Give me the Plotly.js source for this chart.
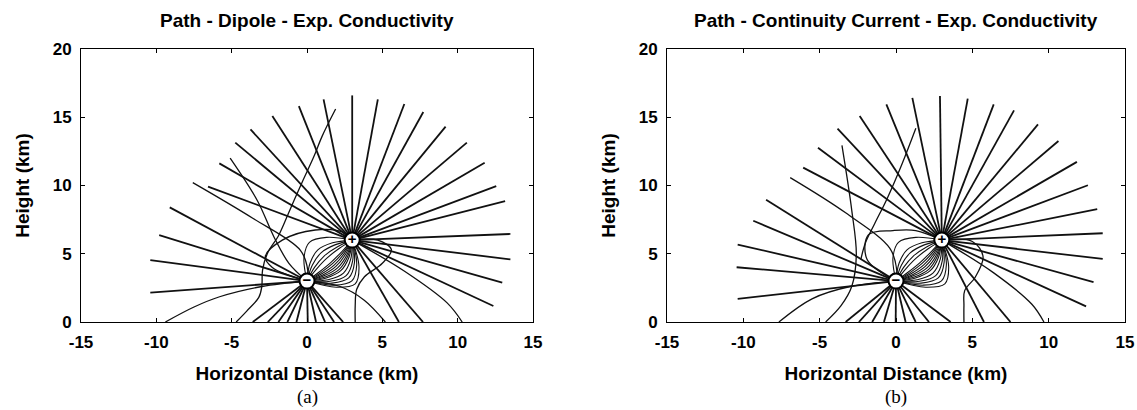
<!DOCTYPE html>
<html><head><meta charset="utf-8">
<script src="https://cdn.plot.ly/plotly-3.0.1.min.js"></script>
<style>html,body{margin:0;padding:0;background:#fff}#chart{width:1137px;height:410px}</style>
</head><body><div id="chart"></div>
<script>
// ---------- data ----------
const xTicks = [-15, -10, -5, 0, 5, 10, 15];
const yTicks = [0, 5, 10, 15, 20];
const chargeX = [3, 0];
const chargeY = [6, 3];
const chargeSign = ['+', '\u2212'];
const panelTitles = ['Path - Dipole - Exp. Conductivity', 'Path - Continuity Current - Exp. Conductivity'];
const panelLetters = ['(a)', '(b)'];

// (a) straight paths leaving the positive charge: end points
const plusEndAX = [3.0, 4.7, 6.46, 7.72, 9.2, 10.61, 11.79, 12.56, 13.15, 13.5, 13.5, 12.96, 12.37, 6.1, 7.7, 1.1, -0.54, -2.3, -3.75, -4.76, -5.82, -6.57];
const plusEndAY = [16.6, 16.31, 15.97, 15.38, 14.31, 13.14, 11.67, 9.96, 8.86, 6.45, 4.59, 2.88, 1.17, 0, 0, 16.31, 15.82, 15.09, 14.11, 13.14, 11.62, 9.92];
// (a) straight paths reaching the negative charge: start points
const minusEndAX = [-10.4, -10.4, -9.81, -9.11, -3.6, -2.6, -1.9, -1.3, -0.7, 0.05, 0.6, 1.2, 1.8, 2.4];
const minusEndAY = [2.15, 4.54, 6.37, 8.4, 0, 0, 0, 0, 0, 0, 0, 0, 0, 0];
// (a) curved paths
const curveA1X = [-7.58, -3.6, -0.45, 0.05, 0];      const curveA1Y = [10.21, 7.6, 5.27, 3.8, 3];
const curveA2X = [-9.4, -7.5, -5.8, -3.0, 0];        const curveA2Y = [0, 1.1, 1.85, 2.6, 3];
const curveA3X = [-5.1, -3.3, -2.2, -1.2, 0];        const curveA3Y = [12.0, 8.9, 6.25, 4.3, 3];
const curveA4X = [1.9, 1.0, 0.45, -0.3, -1.1, -1.9, -2.6, -2.95, -3.0, -3.2, -4.0, -4.7];
const curveA4Y = [15.6, 13.6, 12.1, 10.3, 8.3, 6.3, 5.1, 3.8, 2.6, 1.8, 0.8, 0];
const curveA5X = [3, 4.7, 5.6, 5.0, 3.8, 3.3, 3.2, 3.2]; const curveA5Y = [6, 6.0, 5.3, 4.3, 3.3, 2.4, 1.2, 0];
const curveA6X = [3, 6.5, 9.3, 10.3];                 const curveA6Y = [6, 3.7, 1.4, 0];
const curveA7X = [0, 2.2, 3.8, 5.2];                  const curveA7Y = [3, 2.6, 1.6, 0];
const curveA8X = [0, -2.3, -2.77, -1.64, 0.55, 2.34, 3]; const curveA8Y = [3, 4.0, 4.78, 6.0, 6.74, 6.6, 6];

// (b) straight paths leaving the positive charge: end points
const plusEndBX = [2.88, 4.7, 6.4, 7.73, 9.3, 10.64, 11.85, 12.57, 13.18, 13.54, 13.54, 12.94, 12.45, 5.76, 7.5, 1.07, -0.63, -2.38, -3.83, -5.11, -6.08];
const plusEndBY = [16.55, 16.37, 15.94, 15.5, 14.48, 13.26, 11.73, 10.02, 8.27, 6.5, 4.62, 2.92, 1.14, 0, 0, 16.42, 15.94, 15.09, 14.16, 12.77, 11.31];
// (b) straight paths reaching the negative charge: start points
const minusEndBX = [-8.51, -9.35, -10.37, -10.44, -10.37, -3.3, -2.43, -1.56, -0.79, -0.02, 0.63, 1.29, 2.16, 3.58];
const minusEndBY = [8.95, 7.42, 5.67, 4.01, 1.7, 0, 0, 0, 0, 0, 0, 0, 0, 0];
// (b) curved paths
const curveB1X = [-6.93, -3.3, -0.4, 0.05, 0];       const curveB1Y = [10.58, 8.0, 5.4, 3.8, 3];
const curveB2X = [-7.67, -5.5, -3.0, 0];             const curveB2Y = [0, 1.7, 2.6, 3];
const curveB3X = [-3.54, -2.9, -2.6, -2.9, -3.6, -4.61]; const curveB3Y = [12.94, 8.2, 4.9, 2.6, 1.2, 0];
const curveB4X = [1.3, 0.4, -0.6, -1.4, -2.0, -2.3]; const curveB4Y = [14.2, 11.6, 9.0, 7.2, 5.8, 4.6];
const curveB5X = [3, 5.0, 5.7, 5.2, 4.5, 4.45, 4.45]; const curveB5Y = [6, 5.9, 4.8, 3.3, 2.3, 1.2, 0];
const curveB6X = [3, 6.4, 8.9, 9.69];                const curveB6Y = [6, 3.6, 1.3, 0];
const curveB7X = [0, -1.9, -1.8, -0.2, 1.3, 3];      const curveB7Y = [3, 4.6, 6.4, 6.7, 6.7, 6];

// loops joining the two charges (shared by both panels)
const loop1X = [0, 0.9, 1.71, 2.4, 3];     const loop1Y = [3, 3.6, 4.29, 5.1, 6];
const loop2X = [0, 1.05, 1.92, 2.55, 3];   const loop2Y = [3, 3.45, 4.08, 4.95, 6];
const loop3X = [0, 1.2, 2.14, 2.7, 3];     const loop3Y = [3, 3.3, 3.86, 4.8, 6];
const loop4X = [0, 1.4, 2.42, 2.9, 3];     const loop4Y = [3, 3.1, 3.58, 4.6, 6];
const loop5X = [0, 1.65, 2.77, 3.15, 3];   const loop5Y = [3, 2.85, 3.23, 4.35, 6];
const loop6X = [0, 1.95, 3.2, 3.45, 3];    const loop6Y = [3, 2.55, 2.8, 4.05, 6];
const loop7X = [0, 0.5, 1.15, 2.0, 3];     const loop7Y = [3, 4.0, 4.85, 5.5, 6];
const loop8X = [0, 0.2, 0.72, 1.7, 3];     const loop8Y = [3, 4.3, 5.28, 5.8, 6];
const loop9X = [0, -0.2, 0.16, 1.3, 3];    const loop9Y = [3, 4.7, 5.84, 6.2, 6];
const loop10X = [0, 0.83, 1.61, 2.33, 3];  const loop10Y = [3, 3.68, 4.39, 5.18, 6];
const loop11X = [0, 0.98, 1.82, 2.48, 3];  const loop11Y = [3, 3.53, 4.18, 5.03, 6];
const loop12X = [0, 1.13, 2.03, 2.63, 3];  const loop12Y = [3, 3.38, 3.97, 4.88, 6];
const loop13X = [0, 1.28, 2.24, 2.78, 3];  const loop13Y = [3, 3.23, 3.76, 4.73, 6];
const loop14X = [0, 1.53, 2.6, 3.03, 3];   const loop14Y = [3, 2.98, 3.4, 4.48, 6];
const loop15X = [0, 1.8, 2.98, 3.3, 3];    const loop15Y = [3, 2.7, 3.02, 4.2, 6];
const loop16X = [0, 0.63, 1.32, 2.13, 3];  const loop16Y = [3, 3.88, 4.68, 5.38, 6];
const loop17X = [0, 0.35, 0.93, 1.85, 3];  const loop17Y = [3, 4.15, 5.07, 5.65, 6];

// ---------- build ----------
const loopsX = [loop1X, loop2X, loop3X, loop4X, loop5X, loop6X, loop7X, loop8X, loop9X,
                loop10X, loop11X, loop12X, loop13X, loop14X, loop15X, loop16X, loop17X];
const loopsY = [loop1Y, loop2Y, loop3Y, loop4Y, loop5Y, loop6Y, loop7Y, loop8Y, loop9Y,
                loop10Y, loop11Y, loop12Y, loop13Y, loop14Y, loop15Y, loop16Y, loop17Y];
const panels = [
  {xa: 'x', ya: 'y', pX: plusEndAX, pY: plusEndAY, mX: minusEndAX, mY: minusEndAY,
   cX: [curveA1X, curveA2X, curveA3X, curveA4X, curveA5X, curveA6X, curveA7X, curveA8X],
   cY: [curveA1Y, curveA2Y, curveA3Y, curveA4Y, curveA5Y, curveA6Y, curveA7Y, curveA8Y]},
  {xa: 'x2', ya: 'y2', pX: plusEndBX, pY: plusEndBY, mX: minusEndBX, mY: minusEndBY,
   cX: [curveB1X, curveB2X, curveB3X, curveB4X, curveB5X, curveB6X, curveB7X],
   cY: [curveB1Y, curveB2Y, curveB3Y, curveB4Y, curveB5Y, curveB6Y, curveB7Y]}
];
const ink = '#111';
const traces = [];
function starTrace(p, cx, cy, ex, ey) {
  const xs = [], ys = [];
  for (let i = 0; i < ex.length; i++) { xs.push(cx, ex[i], null); ys.push(cy, ey[i], null); }
  return {x: xs, y: ys, xaxis: p.xa, yaxis: p.ya, mode: 'lines', line: {color: ink, width: 1.8},
          hoverinfo: 'skip', showlegend: false};
}
panels.forEach(p => {
  traces.push(starTrace(p, chargeX[0], chargeY[0], p.pX, p.pY));
  traces.push(starTrace(p, chargeX[1], chargeY[1], p.mX, p.mY));
  p.cX.forEach((cx, i) => traces.push({x: cx, y: p.cY[i], xaxis: p.xa, yaxis: p.ya, mode: 'lines',
    line: {color: ink, width: 1.3, shape: 'spline'}, hoverinfo: 'skip', showlegend: false}));
  loopsX.forEach((lx, i) => traces.push({x: lx, y: loopsY[i], xaxis: p.xa, yaxis: p.ya, mode: 'lines',
    line: {color: ink, width: 1.1, shape: 'spline'}, hoverinfo: 'skip', showlegend: false}));
  traces.push({x: chargeX, y: chargeY, xaxis: p.xa, yaxis: p.ya, mode: 'markers+text',
    text: chargeSign, textposition: 'middle center',
    textfont: {family: 'Liberation Sans, Arial, sans-serif', size: 15, color: '#000', weight: 700},
    marker: {size: 15, color: '#fff', line: {color: '#000', width: 2}},
    hoverinfo: 'skip', showlegend: false});
});

const sans = 'Liberation Sans, Arial, sans-serif';
const tickFont = {family: sans, size: 17, color: '#000', weight: 700};
const axTitleFont = {family: sans, size: 19, color: '#000', weight: 700};
function xAxis(domain) {
  return {domain: domain, range: [-15, 15], tickvals: xTicks, ticktext: xTicks.map(String),
    ticks: 'inside', ticklen: 4, tickcolor: '#000', mirror: 'ticks', showline: true, linecolor: '#000', linewidth: 1,
    showgrid: false, zeroline: false, tickfont: tickFont, ticklabelstandoff: 5,
    title: {text: 'Horizontal Distance (km)', font: axTitleFont, standoff: 15}};
}
function yAxis(domain, anchor) {
  return {domain: domain, anchor: anchor, range: [0, 20], tickvals: yTicks, ticktext: yTicks.map(String),
    ticks: 'inside', ticklen: 4, tickcolor: '#000', mirror: 'ticks', showline: true, linecolor: '#000', linewidth: 1,
    showgrid: false, zeroline: false, tickfont: tickFont, ticklabelstandoff: 5,
    title: {text: 'Height (km)', font: axTitleFont, standoff: 18}};
}
const yDom = [1 - 322 / 410, 1 - 49 / 410];
const xDomA = [81 / 1137, 533 / 1137];
const xDomB = [667 / 1137, 1125 / 1137];
const headFont = {family: sans, size: 19, color: '#000', weight: 700};
const letterFont = {family: 'Liberation Serif, Times New Roman, serif', size: 19, color: '#000'};
function note(text, x, yPix, font) {
  return {text: text, xref: 'paper', yref: 'paper', x: x, y: 1 - yPix / 410, xanchor: 'center', yanchor: 'middle',
          showarrow: false, font: font};
}
const layout = {
  width: 1137, height: 410, margin: {l: 0, r: 0, t: 0, b: 0},
  paper_bgcolor: '#fff', plot_bgcolor: '#fff', showlegend: false,
  xaxis: Object.assign(xAxis(xDomA), {anchor: 'y'}),
  yaxis: yAxis(yDom, 'x'),
  xaxis2: Object.assign(xAxis(xDomB), {anchor: 'y2'}),
  yaxis2: yAxis(yDom, 'x2'),
  annotations: [
    note(panelTitles[0], (xDomA[0] + xDomA[1]) / 2, 20, headFont),
    note(panelTitles[1], (xDomB[0] + xDomB[1]) / 2, 20, headFont),
    note(panelLetters[0], (xDomA[0] + xDomA[1]) / 2, 397, letterFont),
    note(panelLetters[1], (xDomB[0] + xDomB[1]) / 2, 397, letterFont)
  ]
};
Plotly.newPlot('chart', traces, layout, {staticPlot: true, displayModeBar: false});
</script></body></html>
